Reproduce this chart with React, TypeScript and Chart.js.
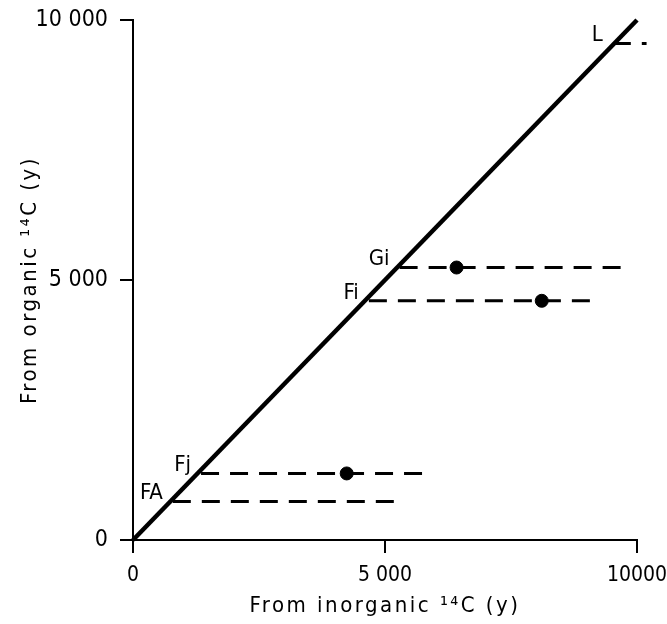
import React, { useEffect, useRef } from "react";
import { Chart, registerables } from "chart.js";

Chart.register(...registerables);

// ---- data ----
const sampleLabels = ["FA", "Fj", "Fi", "Gi", "L"];
const organicAge = [740, 1280, 4600, 5240, 9550];
const inorganicFrom = [790, 1350, 4680, 5290, 9520];
const inorganicTo = [5330, 5890, 9170, 9800, 10190];
const inorganicPoint: (number | null)[] = [null, 4240, 8110, 6420, null];
const diagonal = [0, 10000];
const xTickLabels = ["0", "5 000", "10000"];
const yTickLabels = ["0", "5 000", "10 000"];
const xTitle = "From inorganic ¹⁴C (y)";
const yTitle = "From organic ¹⁴C (y)";

const FAMILY = "'DejaVu Sans Condensed', 'DejaVu Sans', sans-serif";

const labelPlugin = {
  id: "sampleLabels",
  afterDatasetsDraw(chart: any) {
    const { ctx, scales, chartArea } = chart;
    const x = scales.x;
    const y = scales.y;
    ctx.save();
    ctx.fillStyle = "#000";
    ctx.font = `22px ${FAMILY}`;
    ctx.textAlign = "right";
    ctx.textBaseline = "bottom";
    sampleLabels.forEach((s, i) => {
      ctx.fillText(s, x.getPixelForValue(inorganicFrom[i]) - 10, y.getPixelForValue(organicAge[i]) + 3);
    });
    // axis titles
    ctx.font = `22px ${FAMILY}`;
    (ctx as any).letterSpacing = "2.5px";
    ctx.textAlign = "center";
    ctx.textBaseline = "middle";
    ctx.fillText(xTitle, (chartArea.left + chartArea.right) / 2, 606);
    ctx.translate(30, (chartArea.top + chartArea.bottom) / 2);
    ctx.rotate(-Math.PI / 2);
    ctx.fillText(yTitle, 0, 0);
    ctx.restore();
  },
};

export default function App() {
  const ref = useRef<HTMLCanvasElement>(null);
  useEffect(() => {
    if (!ref.current) return;
    const lineStyle = {
      showLine: true,
      borderColor: "#000",
      backgroundColor: "#000",
      pointRadius: 0,
      clip: false as any,
    };
    const points = inorganicPoint
      .map((v, i) => (v == null ? null : { x: v, y: organicAge[i] }))
      .filter((p) => p !== null);
    const chart = new Chart(ref.current, {
      type: "scatter",
      data: {
        datasets: [
          {
            label: "1:1",
            data: [
              { x: diagonal[0], y: diagonal[0] },
              { x: diagonal[1], y: diagonal[1] },
            ],
            borderWidth: 4.5,
            ...lineStyle,
          },
          ...sampleLabels.map((s, i) => ({
            label: s,
            data: [
              { x: inorganicFrom[i], y: organicAge[i] },
              { x: inorganicTo[i], y: organicAge[i] },
            ],
            borderWidth: 3,
            borderDash: [18, 11],
            ...lineStyle,
          })),
          {
            label: "measured",
            data: points as any,
            showLine: false,
            pointRadius: 6.5,
            pointHoverRadius: 6.5,
            backgroundColor: "#000",
            borderColor: "#000",
            clip: false as any,
          },
        ],
      },
      options: {
        animation: false,
        responsive: true,
        maintainAspectRatio: false,
        layout: { padding: { top: 20, right: 30, left: 0, bottom: 0 } },
        plugins: { legend: { display: false }, tooltip: { enabled: false } },
        scales: {
          x: {
            type: "linear",
            min: 0,
            max: 10000,
            ticks: {
              stepSize: 5000,
              color: "#000",
              padding: 10,
              maxRotation: 0,
              font: { family: FAMILY, size: 21 },
              callback: (v: any) => xTickLabels[Math.round(Number(v) / 5000)] ?? "",
            },
            grid: { drawOnChartArea: false, drawTicks: true, tickLength: 13, color: "#000", lineWidth: 2 },
            border: { display: true, color: "#000", width: 2 },
            afterFit: (s: any) => {
              s.height = 84;
              s.paddingLeft = 0;
              s.paddingRight = 0;
            },
          },
          y: {
            type: "linear",
            min: 0,
            max: 10000,
            ticks: {
              stepSize: 5000,
              color: "#000",
              padding: 12,
              font: { family: FAMILY, size: 23 },
              callback: (v: any) => yTickLabels[Math.round(Number(v) / 5000)] ?? "",
            },
            grid: { drawOnChartArea: false, drawTicks: true, tickLength: 13, color: "#000", lineWidth: 2 },
            border: { display: true, color: "#000", width: 2 },
            afterFit: (s: any) => {
              s.width = 133;
              s.paddingTop = 0;
              s.paddingBottom = 0;
            },
          },
        },
      },
      plugins: [labelPlugin],
    });
    return () => chart.destroy();
  }, []);
  return (
    <div style={{ position: "absolute", left: 0, top: 0, width: 667, height: 624 }}>
      <canvas ref={ref} />
    </div>
  );
}
